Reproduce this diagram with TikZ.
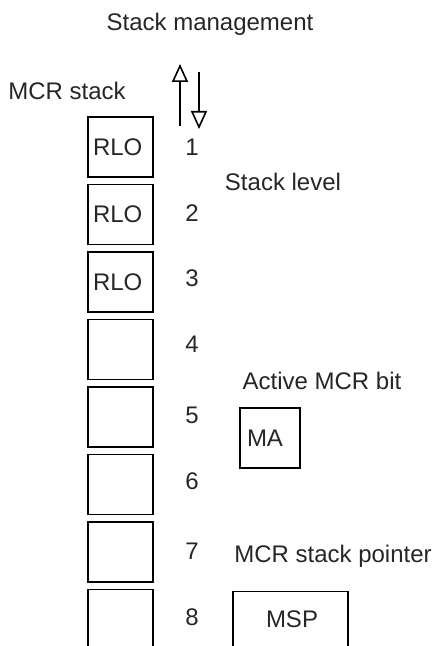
\documentclass[tikz,border=0pt]{standalone}
\usepackage{fontspec}
\setmainfont{Liberation Sans}
\usepackage{tikz}
\usetikzlibrary{arrows.meta}

\begin{document}
\begin{tikzpicture}[
    x=0.5pt, y=-0.5pt,
    every node/.style={font=\fontsize{12pt}{14pt}\selectfont, text=black!85},
    cell/.style={rectangle, draw, line width=0.7pt, minimum width=32.5pt, minimum height=30pt, inner sep=2.5pt, text width=27.5pt, align=left},
    level/.style={inner sep=0pt},
    register/.style={rectangle, draw, line width=0.7pt, minimum width=30pt, minimum height=30pt, inner sep=3.5pt, text width=23pt, align=left},
    arrow/.style={-{Triangle[open, length=9pt, width=8pt, line width=0.8pt]}, line width=0.6pt}
]
\useasboundingbox (0,0) rectangle (436,646);

% Titles
\node (title) at (210,24) {Stack management};
\node (stacklabel) at (67,91) {MCR stack};

% Stack management arrows
\coordinate (pushfrom) at (180,126);
\coordinate (pushto) at (180,64);
\coordinate (popfrom) at (199,72);
\coordinate (popto) at (199,129);
\draw[arrow] (pushfrom) -- (pushto);
\draw[arrow] (popfrom) -- (popto);

% MCR stack cells
\node[cell] (c1) at (120.5,147) {RLO};
\node[cell] (c2) at (120.5,214.5) {RLO};
\node[cell] (c3) at (120.5,282) {RLO};
\node[cell] (c4) at (120.5,349.5) {};
\node[cell] (c5) at (120.5,417) {};
\node[cell] (c6) at (120.5,484.5) {};
\node[cell] (c7) at (120.5,552) {};
\node[cell] (c8) at (120.5,619.5) {};

% Stack levels
\node[level] (n1) at (192,147) {1};
\node[level] (n2) at (192,213) {2};
\node[level] (n3) at (192,278) {3};
\node[level] (n4) at (192,344) {4};
\node[level] (n5) at (192,415) {5};
\node[level] (n6) at (192,481) {6};
\node[level] (n7) at (192,551) {7};
\node[level] (n8) at (192,617) {8};
\node (levellabel) at (283,182) {Stack level};

% Active MCR bit
\node (malabel) at (322,381) {Active MCR bit};
\node[register] (ma) at (270,438) {\raisebox{-3pt}{MA}};

% MCR stack pointer
\node (msplabel) at (333,556) {MCR stack pointer};
\node[rectangle, draw, line width=0.7pt, minimum width=57.5pt, minimum height=35pt, anchor=north] (msp) at (290.5,591) {};
\node (msptext) at (292,619) {MSP};

\end{tikzpicture}
\end{document}
